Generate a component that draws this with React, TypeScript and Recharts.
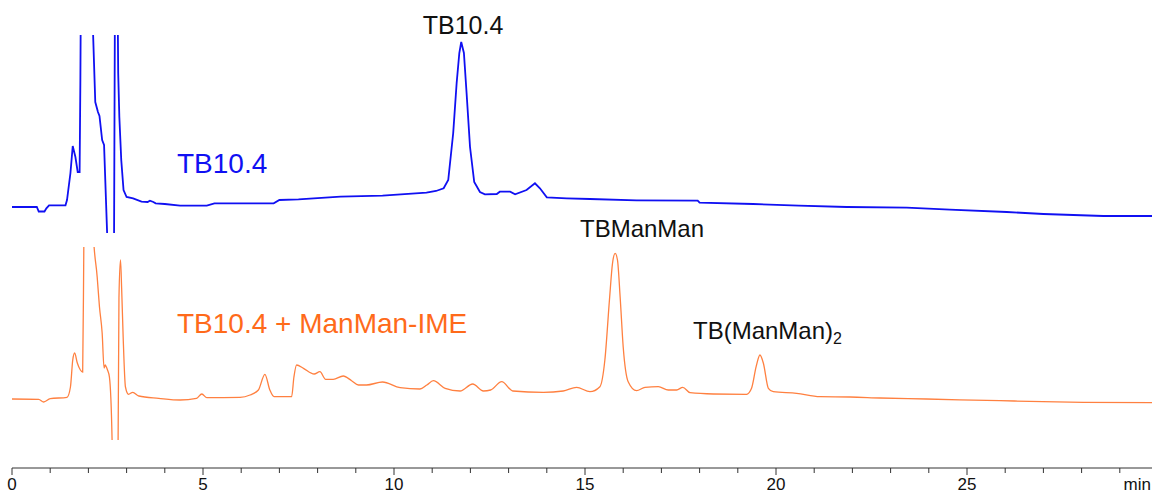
import { LineChart, Line, XAxis, YAxis } from "recharts";

// [minutes, signal] (arbitrary units, baseline ~ 0)
const blueTrace: [number, number][] = [
  [0, 0], [0.65, 0], [0.7, -4.5], [0.85, -4.5], [0.9, -1.3], [0.97, 1.7], [1.4, 1.7],
  [1.44, 7], [1.53, 34], [1.59, 61], [1.66, 50], [1.72, 35], [1.77, 35], [1.79, 127],
  [1.81, 260], [2.0, 320], [2.1, 200], [2.18, 105], [2.25, 95], [2.29, 91], [2.36, 67],
  [2.41, 62], [2.49, -26], [2.53, -150], [2.66, -150], [2.7, 260], [2.76, 230],
  [2.78, 134], [2.81, 90], [2.86, 47], [2.92, 17], [3.0, 10], [3.17, 8.7], [3.39, 5.3],
  [3.55, 5], [3.61, 6.3], [3.7, 5], [3.76, 3.7], [4.0, 3], [4.4, 1.3], [5.1, 1.3],
  [5.3, 3.7], [6.85, 3.7], [7.0, 7], [7.5, 7.7], [8.6, 10.3], [9.7, 11.3], [10.85, 14.3],
  [11.1, 16], [11.3, 18.7], [11.42, 27], [11.55, 74], [11.64, 124], [11.71, 154],
  [11.76, 165], [11.83, 154], [11.9, 114], [11.99, 60], [12.1, 25], [12.25, 15],
  [12.38, 12.7], [12.69, 13], [12.77, 15.3], [13.04, 15.3], [13.17, 12.7], [13.47, 17],
  [13.69, 23.7], [13.82, 18.7], [14.0, 9.7], [14.52, 8.7], [15.13, 8], [16.35, 6.7],
  [17.95, 6.3], [18.0, 4.3], [19.4, 3], [20.6, 1.3], [21.85, 0], [23.42, -0.7],
  [24.55, -2.7], [26.04, -5], [27.0, -7], [28.57, -9], [30, -9],
];

const orangeTrace: [number, number][] = [
  [0, -1], [0.7, -1.3], [0.83, -4], [1.0, -0.7], [1.44, 0.7], [1.53, 11], [1.59, 38],
  [1.64, 45], [1.71, 35], [1.79, 28], [1.85, 26], [1.88, 151], [1.92, 320], [2.05, 320],
  [2.12, 170], [2.23, 121], [2.29, 91], [2.36, 65], [2.41, 30], [2.44, 33], [2.47, 31],
  [2.5, 28], [2.55, 21], [2.62, -42], [2.66, -200], [2.75, -200], [2.8, 100], [2.84, 138],
  [2.87, 110], [2.91, 61], [2.97, 11], [3.05, 3.7], [3.16, 5.7], [3.32, 2], [3.84, -0.3],
  [4.4, -2], [4.83, -0.3], [4.97, 4], [5.1, 0.3], [5.97, 0.7], [6.23, 3], [6.45, 8],
  [6.62, 23.7], [6.75, 8], [6.86, 1.3], [7.32, 1.3], [7.38, 21], [7.45, 33], [7.63, 29.7],
  [7.91, 24], [8.06, 26.3], [8.21, 18.7], [8.41, 18.7], [8.67, 22], [8.89, 17.3],
  [9.07, 13], [9.28, 13], [9.7, 16], [10.16, 10.3], [10.68, 9], [10.86, 13], [11.03, 17.3],
  [11.34, 9.7], [11.73, 7], [12.06, 14], [12.34, 7], [12.53, 8], [12.82, 16.3], [13.11, 7],
  [13.91, 5.7], [14.43, 7], [14.78, 10.7], [15.13, 6.3], [15.39, 11.3], [15.52, 38],
  [15.64, 98], [15.72, 134.7], [15.79, 144.7], [15.85, 138], [15.92, 101], [16.0, 51],
  [16.13, 16.3], [16.35, 7.3], [16.57, 10.7], [16.92, 11.3], [17.18, 8], [17.4, 8],
  [17.56, 10.7], [17.75, 5.3], [18.36, 4], [19.23, 3.7], [19.36, 9.7], [19.48, 31.3],
  [19.58, 43], [19.67, 34.7], [19.8, 9.7], [19.93, 6.3], [20.54, 4.7], [21.15, 1.3],
  [21.94, 1], [22.72, 0], [23.94, -1], [25.86, -2.7], [28.04, -4.3], [30, -4.7],
];

const minuteTicks = [
  0, 1, 2, 3, 4, 5, 6, 7, 8, 9, 10, 11, 12, 13, 14, 15, 16, 17, 18, 19, 20,
  21, 22, 23, 24, 25, 26, 27, 28, 29, 30,
];
const labelledTicks = [0, 5, 10, 15, 20, 25];
const axisUnit = "min";

const blueDomain = [-26, 172];
const orangeDomain = [-42, 151];

const toRows = (trace: [number, number][]) => trace.map(([t, v]) => ({ t, v }));
const blueRows = toRows(blueTrace);
const orangeRows = toRows(orangeTrace);

const W = 1170;
const H = 494;
const FONT = '"Liberation Sans", Arial, Helvetica, sans-serif';
const layer: React.CSSProperties = { position: "absolute", left: 0, top: 0 };

const MinuteTick = (props: any) => {
  const { x, y, payload } = props;
  const value = payload.value;
  const major = value % 5 === 0;
  return (
    <g>
      <line x1={x} y1={y} x2={x} y2={y + (major ? 7 : 5)} stroke="#333" strokeWidth={1} />
      {labelledTicks.includes(value) && (
        <text x={x} y={y + 22} textAnchor="middle" fontSize={17} fill="#111" fontFamily={FONT}>
          {value}
        </text>
      )}
      {value === 30 && (
        <text x={x - 7} y={y + 22} textAnchor="end" fontSize={17} fill="#111" fontFamily={FONT}>
          {axisUnit}
        </text>
      )}
    </g>
  );
};

export default function App() {
  return (
    <div style={{ position: "absolute", left: 0, top: 0, width: 1152, height: H, overflow: "hidden", background: "#fff" }}>
      <div style={layer}>
        <LineChart width={W} height={H} data={blueRows} margin={{ top: 35, right: 12, bottom: 261, left: 12 }}>
          <XAxis type="number" dataKey="t" domain={[0, 30]} allowDataOverflow hide />
          <YAxis type="number" domain={blueDomain} allowDataOverflow hide width={0} />
          <Line dataKey="v" type="linear" stroke="#1010f2" strokeWidth={1.8} dot={false} isAnimationActive={false} />
        </LineChart>
      </div>
      <div style={layer}>
        <LineChart width={W} height={H} data={orangeRows} margin={{ top: 247, right: 12, bottom: 54, left: 12 }}>
          <XAxis type="number" dataKey="t" domain={[0, 30]} allowDataOverflow hide />
          <YAxis type="number" domain={orangeDomain} allowDataOverflow hide width={0} />
          <Line dataKey="v" type="monotone" stroke="#ff8040" strokeWidth={1.3} dot={false} isAnimationActive={false} />
        </LineChart>
      </div>
      <div style={layer}>
        <LineChart width={W} height={H} data={orangeRows} margin={{ top: 440, right: 12, bottom: 0, left: 12 }}>
          <XAxis
            type="number"
            dataKey="t"
            domain={[0, 30]}
            ticks={minuteTicks}
            interval={0}
            height={26}
            tickSize={0}
            tickMargin={0}
            tickLine={false}
            axisLine={{ stroke: "#333", strokeWidth: 1 }}
            tick={<MinuteTick />}
          />
          <YAxis hide width={0} />
        </LineChart>
      </div>
      <svg style={layer} width={1152} height={H} fontFamily={FONT}>
        <text x={463} y={34} textAnchor="middle" fontSize={25} fill="#111">TB10.4</text>
        <text x={177} y={173} fontSize={28} fill="#1010f2">TB10.4</text>
        <text x={177} y={333} fontSize={28} fill="#ff6a1a">TB10.4 + ManMan-IME</text>
        <text x={580} y={237} fontSize={24} fill="#111">TBManMan</text>
        <text x={693} y={339} fontSize={24} fill="#111">
          TB(ManMan)<tspan fontSize={16} dy={5}>2</tspan>
        </text>
      </svg>
    </div>
  );
}
